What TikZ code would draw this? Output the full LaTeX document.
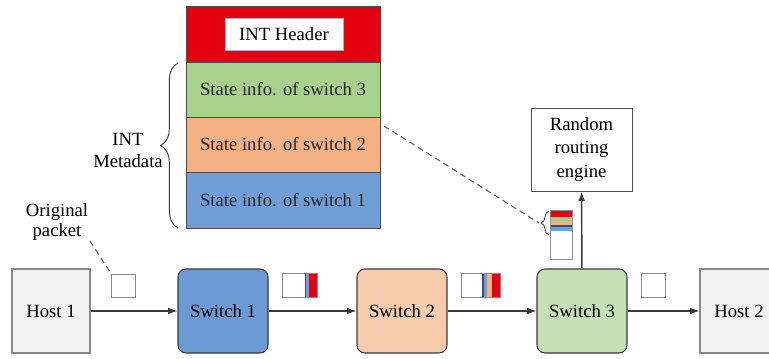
\documentclass[tikz,border=0pt]{standalone}
\usepackage{fontspec}
\setmainfont{Liberation Serif}
\usetikzlibrary{arrows.meta,decorations.pathreplacing}
\definecolor{intred}{HTML}{E3000F}
\definecolor{intgreen}{HTML}{A9D18E}
\definecolor{intorange}{HTML}{F4B183}
\definecolor{intblue}{HTML}{6F9FD6}
\definecolor{sw1fill}{HTML}{6A9BD4}
\definecolor{sw2fill}{HTML}{F8CBAD}
\definecolor{sw3fill}{HTML}{C5E0B4}
\definecolor{hostfill}{HTML}{F2F2F2}
\definecolor{darkline}{HTML}{3A3A3A}
\definecolor{pktline}{HTML}{8A8A8A}
\definecolor{navy}{HTML}{2F4F80}
\begin{document}
\begin{tikzpicture}[x=0.75pt,y=-0.75pt,
  font=\fontsize{14}{17.5}\selectfont,
  hostbox/.style={draw=pktline,fill=hostfill,line width=0.8pt,minimum width=58.5pt,minimum height=63pt,inner sep=0pt},
  switchbox/.style={draw=darkline,line width=0.8pt,rounded corners=6pt,minimum width=67.5pt,minimum height=63pt,inner sep=0pt},
  layer/.style={draw=gray!60!black,line width=0.5pt,minimum width=145.5pt,inner sep=0pt,text=black!85},
  pkt/.style={fill=white,inner sep=0pt},
  pktedge/.style={draw=pktline,line width=0.9pt},
  flow/.style={draw=darkline,line width=0.8pt,-{Latex[length=7pt,width=5pt]}},
  dashline/.style={draw=darkline!80,line width=0.8pt,dash pattern=on 4.5pt off 3pt},
  bracestyle/.style={draw=darkline,line width=0.7pt,decorate}
]
\useasboundingbox (0,0) rectangle (769,358);

% INT stack
\node[layer,fill=intred,minimum height=42pt] (red) at (283,34) {};
\node[draw=gray!60,fill=white,line width=0.5pt,minimum width=88.5pt,minimum height=24pt,inner sep=0pt] (hdr) at (284,34) {INT Header};
\node[layer,fill=intgreen,minimum height=41.25pt] (green) at (283,89.5) {State info. of switch 3};
\node[layer,fill=intorange,minimum height=41.25pt] (orange) at (283,144.5) {State info. of switch 2};
\node[layer,fill=intblue,minimum height=42pt] (blue) at (283,200) {State info. of switch 1};

% big brace
\coordinate (bb) at (178,228);
\coordinate (bt) at (178,63);
\draw[bracestyle,decoration={brace,amplitude=13pt}] (bb) -- (bt);
\node[align=center,font=\fontsize{14}{16.5}\selectfont] (meta) at (128,150) {INT\\Metadata};

% main path nodes
\node[hostbox] (h1) at (51,311) {Host 1};
\node[switchbox,fill=sw1fill] (s1) at (223,311) {Switch 1};
\node[switchbox,fill=sw2fill] (s2) at (402,311) {Switch 2};
\node[switchbox,fill=sw3fill] (s3) at (582,311) {Switch 3};
\node[hostbox] (h2) at (739,311) {Host 2};

\node[draw=darkline!90,line width=0.7pt,minimum width=75.75pt,minimum height=62.25pt,align=center,inner sep=0pt] (eng) at (581.5,149.5) {Random\\routing\\engine};

\draw[flow] (h1) -- (s1);
\draw[flow] (s1) -- (s2);
\draw[flow] (s2) -- (s3);
\draw[flow] (s3) -- (h2);
\draw[flow,line width=1.1pt] (s3) -- (eng);

% Original packet label
\node[align=center,font=\fontsize{14}{15.5}\selectfont] (orig) at (57,222) {Original\\packet};

% packets
\node[pkt,minimum width=17.25pt,minimum height=16.5pt] (p0) at (123.5,286) {};
\draw[pktedge] (p0.north west) rectangle (p0.south east);
\coordinate (origend) at (90,241);
\draw[dashline] (origend) -- (p0.north west);

\node[pkt,minimum width=25.5pt,minimum height=17.25pt] (p1) at (300,285.5) {};
\fill[intblue] (305,274) rectangle (309,297);
\fill[navy] (305,274) rectangle (306,297);
\fill[intred] (309,274) rectangle (317,297);
\draw[pktedge] (p1.north west) rectangle (p1.south east);

\node[pkt,minimum width=28.5pt,minimum height=17.25pt] (p2) at (481,285.5) {};
\fill[intblue] (482,274) rectangle (487,297);
\fill[navy] (482,274) rectangle (483.5,297);
\fill[intorange] (487,274) rectangle (492,297);
\fill[intred] (492,274) rectangle (500,297);
\draw[pktedge] (p2.north west) rectangle (p2.south east);

\node[pkt,minimum width=17.25pt,minimum height=17.25pt] (p3) at (653.5,285.5) {};
\draw[pktedge] (p3.north west) rectangle (p3.south east);

% vertical packet near switch 3
\node[pkt,minimum width=15.75pt,minimum height=36pt] (p4) at (561.5,235) {};
\fill[intred] (551,211) rectangle (572,217);
\fill[intgreen] (551,217) rectangle (572,221);
\fill[intorange] (551,221) rectangle (572,225);
\fill[navy] (551,225) rectangle (572,226.5);
\fill[intblue] (551,226.5) rectangle (572,231);
\draw[pktedge] (p4.north west) rectangle (p4.south east);

% small brace and dashed link
\coordinate (sbb) at (549,235);
\coordinate (sbt) at (549,211);
\draw[bracestyle,line width=0.6pt,decoration={brace,amplitude=6pt}] (sbb) -- (sbt);
\coordinate (stip) at (539,223);
\coordinate (gstart) at (384,126);
\draw[dashline] (gstart) -- (stip);
\end{tikzpicture}
\end{document}
